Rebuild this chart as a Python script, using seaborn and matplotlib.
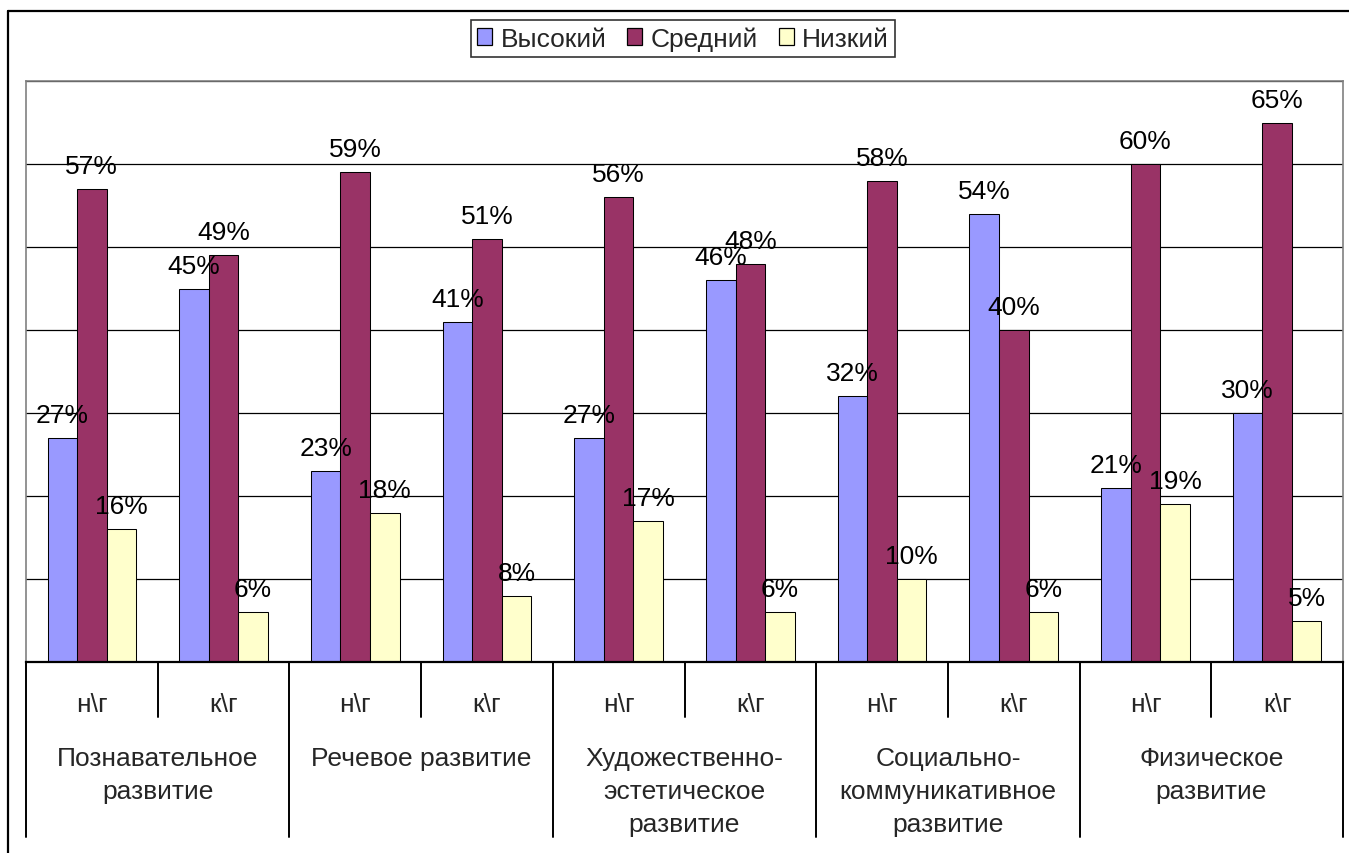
import matplotlib
matplotlib.use("Agg")
import matplotlib.pyplot as plt
import matplotlib.transforms as mtransforms
from matplotlib.lines import Line2D
from matplotlib.patches import Patch
import seaborn as sns
import pandas as pd

# ---------------- data ----------------
category_lines = [
    ["Познавательное", "развитие"],
    ["Речевое развитие"],
    ["Художественно-", "эстетическое", "развитие"],
    ["Социально-", "коммуникативное", "развитие"],
    ["Физическое", "развитие"],
]
periods = ["н\\г", "к\\г"]
series_names = ["Высокий", "Средний", "Низкий"]
high = [27, 45, 23, 41, 27, 46, 32, 54, 21, 30]
mid = [57, 49, 59, 51, 56, 48, 58, 40, 60, 65]
low = [16, 6, 18, 8, 17, 6, 10, 6, 19, 5]
colors = ["#9999FF", "#993366", "#FFFFCC"]

# ---------------- build frame ----------------
groups = []
group_period = []
for ci in range(len(category_lines)):
    for p in periods:
        groups.append(f"{ci}|{p}")
        group_period.append(p)

rows = []
for name, vals in zip(series_names, [high, mid, low]):
    for g, v in zip(groups, vals):
        rows.append({"group": g, "series": name, "value": v})
df = pd.DataFrame(rows)

sns.set_style("white")
plt.rcParams["font.family"] = ["Liberation Sans", "DejaVu Sans"]
FS = 19

fig = plt.figure(figsize=(13.49, 8.54), dpi=100)
ax = fig.add_axes([26 / 1349, 1 - 663 / 854, 1317 / 1349, 581 / 854])

sns.barplot(data=df, x="group", y="value", hue="series", order=groups,
            hue_order=series_names, palette=colors, saturation=1,
            width=0.673, gap=0, edgecolor="black", linewidth=0.75,
            legend=False, ax=ax, zorder=3)

ax.set_xlim(-0.5, len(groups) - 0.5)
ax.set_ylim(0, 70)
ax.set_yticks(range(0, 71, 10))
ax.yaxis.grid(True, color="black", linewidth=0.9)
ax.xaxis.grid(False)
ax.set_axisbelow(True)
ax.tick_params(axis="both", length=0, labelleft=False, labelbottom=False)
ax.set_xlabel("")
ax.set_ylabel("")
for s in ["top", "left", "right"]:
    ax.spines[s].set_color("#808080")
    ax.spines[s].set_linewidth(1.2)
ax.spines["bottom"].set_color("black")
ax.spines["bottom"].set_linewidth(1.6)
ax.spines["bottom"].set_zorder(5)

# data labels
for container, vals in zip(ax.containers, [high, mid, low]):
    for bar, v in zip(container, vals):
        xc = bar.get_x() + bar.get_width() / 2
        ax.annotate(f"{v}%", (xc, bar.get_height()), xytext=(0, 11.5),
                    textcoords="offset points", ha="center", va="baseline",
                    fontsize=FS, color="black", zorder=6, annotation_clip=False)

# two-level x axis
trans = mtransforms.blended_transform_factory(ax.transData, fig.transFigure)
def fy(px):
    return 1 - px / 854

for i, p in enumerate(group_period):
    ax.text(i, fy(712), p, transform=trans, ha="center", va="baseline", fontsize=FS)

for ci, lines in enumerate(category_lines):
    xc = 2 * ci + 0.5
    for k, line in enumerate(lines):
        ax.text(xc, fy(766 + 33 * k), line, transform=trans, ha="center",
                va="baseline", fontsize=FS)

for b in range(len(groups) + 1):
    xb = b - 0.5
    ybot = fy(838) if b % 2 == 0 else fy(718)
    ax.add_line(Line2D([xb, xb], [fy(663), ybot], transform=trans, color="black",
                       linewidth=1.4, clip_on=False))

# outer chart border (cut off on right and bottom)
fig.add_artist(Line2D([8 / 1349, 8 / 1349], [fy(12), 0], transform=fig.transFigure,
                      color="black", linewidth=1.6))
fig.add_artist(Line2D([8 / 1349, 1], [fy(12), fy(12)], transform=fig.transFigure,
                      color="black", linewidth=1.6))

# legend
handles = [Patch(facecolor=c, edgecolor="black", linewidth=0.9) for c in colors]
leg = fig.legend(handles, series_names, loc="center", ncol=3,
                 bbox_to_anchor=(683 / 1349, fy(39.5)), fontsize=FS,
                 frameon=True, fancybox=False, edgecolor="black",
                 handlelength=0.57, handleheight=0.57, handletextpad=0.3,
                 columnspacing=0.8, borderpad=0.25, borderaxespad=0)
leg.get_frame().set_linewidth(1.2)

fig.savefig("out.png", dpi=100)
